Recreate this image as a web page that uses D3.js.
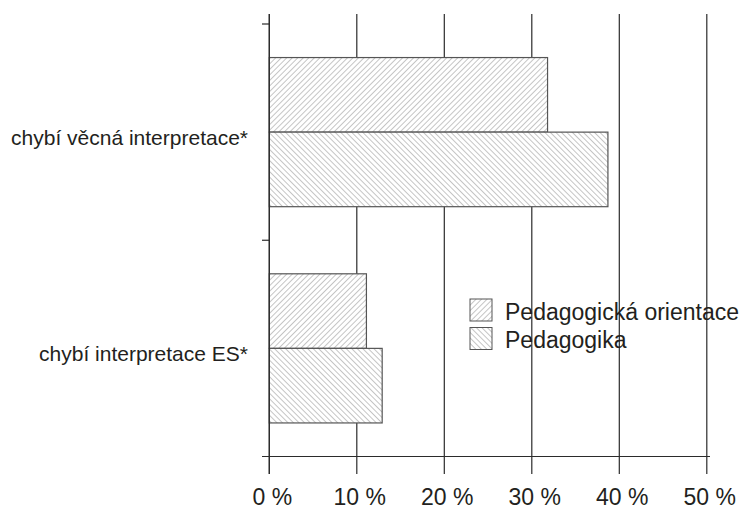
<!DOCTYPE html>
<html>
<head>
<meta charset="utf-8">
<script src="https://cdn.jsdelivr.net/npm/d3@7"></script>
<style>
  html, body { margin: 0; padding: 0; background: #fff; }
  svg { display: block; font-family: "Liberation Sans", Arial, Helvetica, sans-serif; }
</style>
</head>
<body>
<script>
const categories = ["chybí věcná interpretace*", "chybí interpretace ES*"];
const seriesNames = ["Pedagogická orientace", "Pedagogika"];
const valuesOrientace = [31.8, 11.1];
const valuesPedagogika = [38.7, 12.9];
const xTicks = [0, 10, 20, 30, 40, 50];
const tickLabels = ["0 %", "10 %", "20 %", "30 %", "40 %", "50 %"];

const W = 747, H = 516;
const svg = d3.select("body").append("svg").attr("width", W).attr("height", H);

const lineColor = "#2b2b2b";
const textColor = "#231f20";

// hatch patterns
const defs = svg.append("defs");
function hatch(id, forward) {
  const s = 3.9;
  const p = defs.append("pattern")
    .attr("id", id).attr("patternUnits", "userSpaceOnUse")
    .attr("width", s).attr("height", s)
    .attr("patternTransform", `rotate(${forward ? 45 : -45})`);
  p.append("rect").attr("width", s).attr("height", s).attr("fill", "#fff");
  p.append("line").attr("x1", 0).attr("y1", 0).attr("x2", 0).attr("y2", s)
    .attr("stroke", "#8c8c8c").attr("stroke-width", 1);
}
hatch("hatchF", true);
hatch("hatchB", false);
const fills = ["url(#hatchF)", "url(#hatchB)"];

const x = d3.scaleLinear().domain([0, 50]).range([269.3, 706.8]);
const y0 = d3.scaleBand().domain(categories).range([24, 456.5]).paddingInner(0).paddingOuter(0);
const y1 = d3.scaleBand().domain(seriesNames).range([0, y0.bandwidth()]).paddingInner(0).paddingOuter(0.45).align(0.5);

const topY = 14, bottomY = 474;

// vertical grid lines (incl. ticks below axis)
svg.append("g").selectAll("line").data(xTicks).join("line")
  .attr("x1", d => x(d)).attr("x2", d => x(d))
  .attr("y1", topY).attr("y2", bottomY)
  .attr("stroke", lineColor).attr("stroke-width", 1.2);

// horizontal axis line
svg.append("line")
  .attr("x1", 262).attr("x2", 710)
  .attr("y1", y0.range()[1]).attr("y2", y0.range()[1])
  .attr("stroke", lineColor).attr("stroke-width", 1.2);

// y ticks at category boundaries
const boundaries = categories.map(c => y0(c));
svg.append("g").selectAll("line").data(boundaries).join("line")
  .attr("x1", 262).attr("x2", x(0))
  .attr("y1", d => d).attr("y2", d => d)
  .attr("stroke", lineColor).attr("stroke-width", 1.2);

// bars
const data = categories.map((c, i) => ({ cat: c, vals: [valuesOrientace[i], valuesPedagogika[i]] }));
const groups = svg.append("g").selectAll("g").data(data).join("g")
  .attr("transform", d => `translate(0,${y0(d.cat)})`);
groups.selectAll("rect").data(d => d.vals.map((v, j) => ({ v, s: seriesNames[j], j }))).join("rect")
  .attr("x", x(0))
  .attr("y", d => y1(d.s))
  .attr("width", d => x(d.v) - x(0))
  .attr("height", y1.bandwidth())
  .attr("fill", d => fills[d.j])
  .attr("stroke", "#555").attr("stroke-width", 1.2);

// redraw y axis line on top
svg.append("line")
  .attr("x1", x(0)).attr("x2", x(0)).attr("y1", topY).attr("y2", bottomY)
  .attr("stroke", lineColor).attr("stroke-width", 1.2);

// category labels
svg.append("g").selectAll("text").data(categories).join("text")
  .attr("x", 248)
  .attr("y", d => y0(d) + y0.bandwidth() / 2 + 12.5)
  .attr("text-anchor", "end")
  .attr("font-size", 21)
  .attr("fill", textColor)
  .text(d => d);

// x tick labels
svg.append("g").selectAll("text").data(xTicks).join("text")
  .attr("x", d => x(d) + 3)
  .attr("y", 505)
  .attr("text-anchor", "middle")
  .attr("font-size", 23)
  .attr("fill", textColor)
  .text((d, i) => tickLabels[i]);

// legend
const legend = svg.append("g").attr("transform", "translate(470,299)");
const li = legend.selectAll("g").data(seriesNames).join("g")
  .attr("transform", (d, i) => `translate(0,${i * 28.5})`);
li.append("rect").attr("width", 22).attr("height", 22)
  .attr("fill", (d, i) => fills[i])
  .attr("stroke", "#555").attr("stroke-width", 1);
li.append("text").attr("x", 35).attr("y", 20.5)
  .attr("font-size", 23).attr("fill", textColor)
  .text(d => d);
</script>
</body>
</html>
